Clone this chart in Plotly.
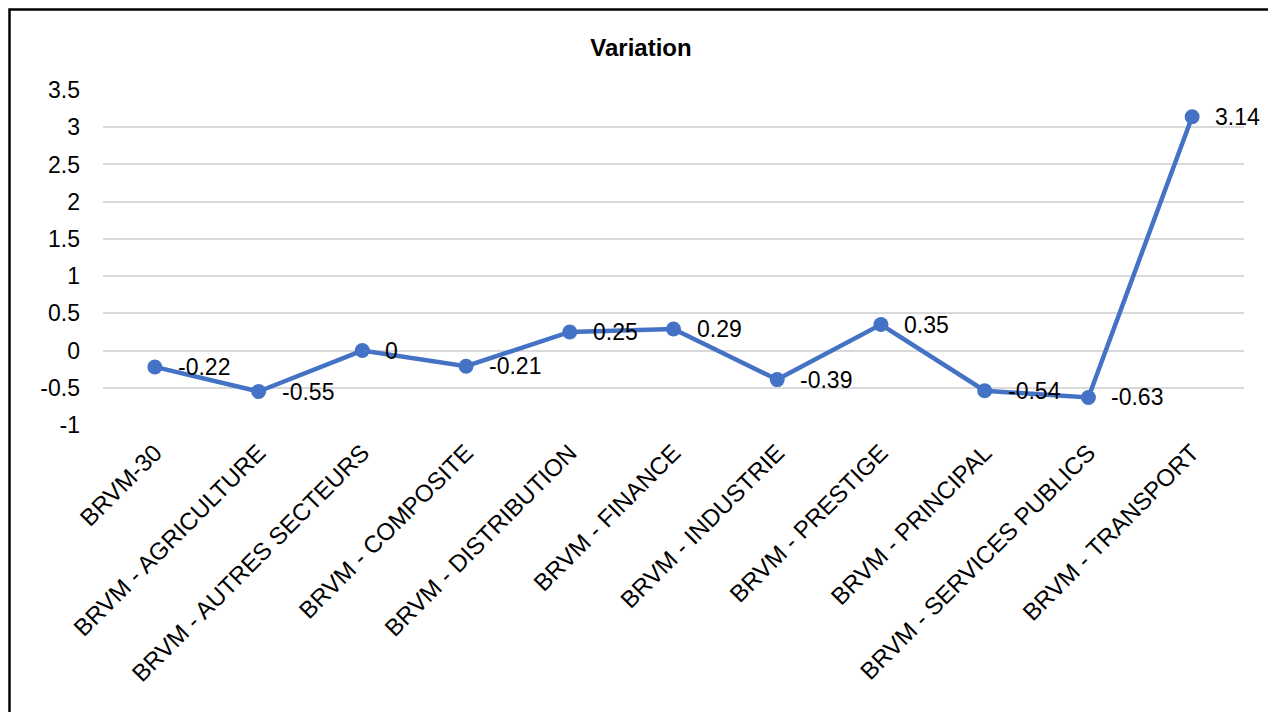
import plotly.graph_objects as go

categories = ["BRVM-30", "BRVM - AGRICULTURE", "BRVM - AUTRES SECTEURS", "BRVM - COMPOSITE",
              "BRVM - DISTRIBUTION", "BRVM - FINANCE", "BRVM - INDUSTRIE", "BRVM - PRESTIGE",
              "BRVM - PRINCIPAL", "BRVM - SERVICES PUBLICS", "BRVM - TRANSPORT"]
values = [-0.22, -0.55, 0, -0.21, 0.25, 0.29, -0.39, 0.35, -0.54, -0.63, 3.14]
labels = ["-0.22", "-0.55", "0", "-0.21", "0.25", "0.29", "-0.39", "0.35", "-0.54", "-0.63", "3.14"]
y_ticks = [-1, -0.5, 0, 0.5, 1, 1.5, 2, 2.5, 3, 3.5]

FONT = "Liberation Sans, Arial"
W, H = 1276, 712
# page body has an 8px offset
L, R, T, B = 95, 40, 82, 295
pw, ph = W - L - R, H - T - B

fig = go.Figure(go.Scatter(
    x=categories, y=values, mode="lines+markers",
    line=dict(color="#4472C4", width=4.5),
    marker=dict(color="#4472C4", size=15),
    cliponaxis=False, hoverinfo="skip"
))

for c, v, t in zip(categories, values, labels):
    fig.add_annotation(x=c, y=v, text=t, showarrow=False, xanchor="left", yanchor="middle",
                       xshift=21, font=dict(family=FONT, size=23, color="#000000"))

fig.update_layout(
    width=W, height=H,
    margin=dict(l=L, r=R, t=T, b=B, autoexpand=False),
    paper_bgcolor="white", plot_bgcolor="white",
    showlegend=False,
    font=dict(family=FONT, color="#000000"),
    title=dict(text="<b>Variation</b>", x=633 / W, xanchor="center",
               y=1 - 40 / H, yanchor="middle", font=dict(size=24, color="#000000")),
    xaxis=dict(type="category", range=[-0.5, 10.5], tickangle=-45,
               tickfont=dict(size=24, color="#000000"), showgrid=False,
               showline=False, ticks="", zeroline=False, ticklabelstandoff=8),
    yaxis=dict(range=[-1, 3.5], tickvals=y_ticks, ticktext=[str(v) for v in y_ticks],
               tickfont=dict(size=23, color="#000000"), showgrid=True,
               gridcolor="#D9D9D9", gridwidth=1.5, zeroline=False, showline=False, ticks="",
               ticklabelstandoff=22),
)

# outer border (left & top visible)
fig.add_shape(type="rect", xref="paper", yref="paper",
              x0=(1.5 - L) / pw, x1=(W + 20 - L) / pw,
              y0=(T + ph - (H + 20)) / ph, y1=(T + ph - 1.5) / ph,
              line=dict(color="#000000", width=2.5), fillcolor="rgba(0,0,0,0)", layer="above")

fig.write_html("out.html")
